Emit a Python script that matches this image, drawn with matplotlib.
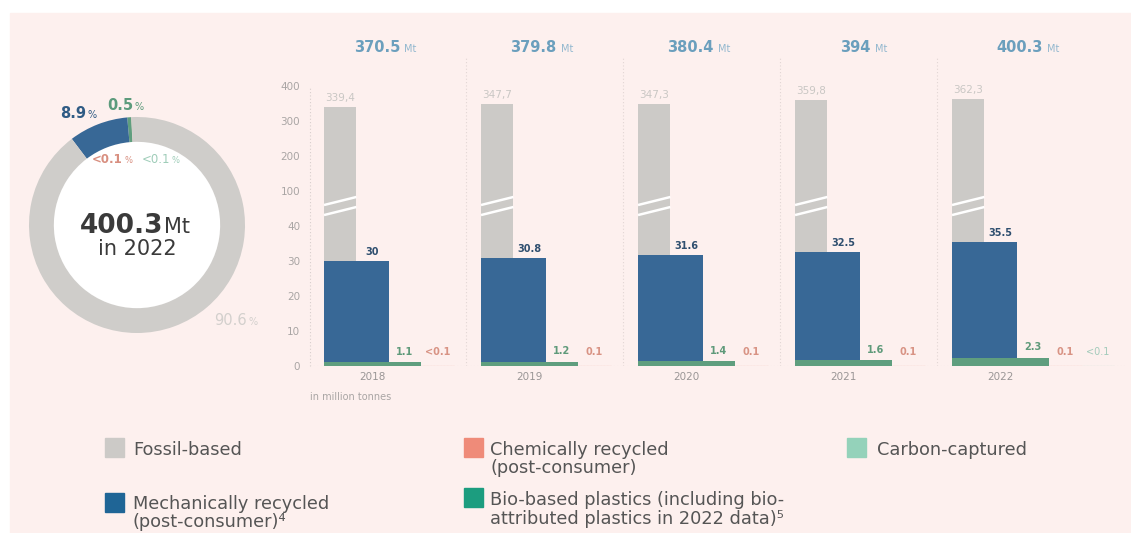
import numpy as np
import matplotlib
matplotlib.use("Agg")
import matplotlib.pyplot as plt
import matplotlib.transforms as mtransforms
from matplotlib.patches import Rectangle, Circle

# data (million tonnes)
years = ["2018", "2019", "2020", "2021", "2022"]
total_labels = ["370.5", "379.8", "380.4", "394", "400.3"]
fossil = [339.4, 347.7, 347.3, 359.8, 362.3]
mech = [30, 30.8, 31.6, 32.5, 35.5]
mech_labels = ["30", "30.8", "31.6", "32.5", "35.5"]
bio = [1.1, 1.2, 1.4, 1.6, 2.3]
chem = [0.05, 0.1, 0.1, 0.1, 0.1]
chem_labels = ["<0.1", "0.1", "0.1", "0.1", "0.1"]
carbon = [0, 0, 0, 0, 0.05]
carbon_labels = ["", "", "", "", "<0.1"]

donut_labels = ["<0.1", "<0.1", "0.5", "8.9", "90.6"]  # carbon, chem, bio, mech, fossil
yticks = [0, 10, 20, 30, 40, 100, 200, 300, 400]

BG = "#fdf0ee"
GRAY = "#cccac7"
BLUE = "#386896"
BLUE_LEG = "#1f6596"
GREEN = "#5f9e7e"
GREEN_LEG = "#1c9d7f"
RED = "#ef8b79"
MINT = "#94d2ba"
TXT = "#555555"

W, H = 1131, 533
fig = plt.figure(figsize=(W / 100, H / 100), dpi=100)
fig.patch.set_facecolor("white")
fig.patches.append(Rectangle((10 / W, 0), 1, 1 - 13 / H, transform=fig.transFigure,
                             color=BG, zorder=-5))

# ---- bar chart with broken y scale ----
fwd_x = [-1000, 0, 40, 100, 400, 2000]
fwd_y = [-1000, 0, 40, 50, 80, 240]


def fwd(v):
    return np.interp(v, fwd_x, fwd_y)


def inv(v):
    return np.interp(v, fwd_y, fwd_x)


ax = fig.add_axes([310 / W, 1 - 366 / H, 815 / W, 309 / H])
ax.patch.set_alpha(0)
ax.set_yscale("function", functions=(fwd, inv))
ax.set_xlim(0, 815)
ax.set_ylim(0, 483)
for s in ax.spines.values():
    s.set_visible(False)

slot = 32.4
lefts = 14 + 157 * np.arange(len(years))

ax.bar(lefts, fossil, width=slot, align="edge", color=GRAY, zorder=2)
ax.bar(lefts, mech, width=2 * slot, align="edge", color=BLUE, zorder=3)
ax.bar(lefts, bio, width=3 * slot, align="edge", color=GREEN, zorder=4)
ax.bar(lefts + 3 * slot, chem, width=slot, align="edge", color=RED, ec=RED, lw=0.8, zorder=4)
cmask = np.array(carbon) > 0
ax.bar((lefts + 4 * slot)[cmask], np.array(carbon)[cmask], width=slot, align="edge",
       color=MINT, ec=MINT, lw=0.8, zorder=4)

# break marks on the fossil bars
for l in lefts:
    ax.plot([l, l + slot], [58.8, 72.6], color="white", lw=1.8, zorder=5, solid_capstyle="butt")
    ax.plot([l, l + slot], [76, 89.8], color="white", lw=1.8, zorder=5, solid_capstyle="butt")

for i in range(len(years)):
    l = lefts[i]
    ax.annotate(f"{fossil[i]:.1f}".replace(".", ","), (l + 0.5 * slot, fossil[i]),
                xytext=(0, 3), textcoords="offset points", ha="center", va="bottom",
                fontsize=7.5, color="#c9c7c4")
    ax.annotate(mech_labels[i], (l + 1.5 * slot, mech[i]), xytext=(0, 3),
                textcoords="offset points", ha="center", va="bottom",
                fontsize=7, fontweight="bold", color="#2f4f6f")
    ax.annotate(f"{bio[i]:.1f}", (l + 2.5 * slot, bio[i]), xytext=(0, 4),
                textcoords="offset points", ha="center", va="bottom",
                fontsize=7, fontweight="bold", color="#5f9a7a")
    ax.annotate(chem_labels[i], (l + 3.5 * slot, chem[i]), xytext=(0, 6),
                textcoords="offset points", ha="center", va="bottom",
                fontsize=7, fontweight="bold", color="#d89384")
    if carbon_labels[i]:
        ax.annotate(carbon_labels[i], (l + 4.5 * slot, carbon[i]), xytext=(0, 6),
                    textcoords="offset points", ha="center", va="bottom",
                    fontsize=7, color="#a3cbbb")

# grid / separators
ax.plot([0, 0], [0, 400], ls=(0, (1, 2)), color="#d9cfcd", lw=0.8, clip_on=False)
ax.axhline(0, ls=(0, (1, 2)), color="#d9cfcd", lw=0.8, zorder=1)
seps = list(lefts[1:] - 15)
for x in seps:
    ax.plot([x, x], [0, 483], ls=(0, (1, 2)), color="#e2d6d4", lw=0.8, zorder=1)

# totals centred in each column
bounds = [0] + seps + [815]
trans = mtransforms.blended_transform_factory(ax.transData, ax.transAxes)
for i in range(len(years)):
    c = (bounds[i] + bounds[i + 1]) / 2
    ax.text(c + 12, 1.016, total_labels[i], transform=trans, ha="right", va="baseline",
            fontsize=10.5, fontweight="bold", color="#6b9fbd")
    ax.annotate("Mt", (c + 12, 1.016), xycoords=trans, xytext=(3, 0),
                textcoords="offset points", ha="left", va="baseline",
                fontsize=7, color="#93b8cf")

ax.set_yticks(yticks)
ax.set_yticklabels([str(t) for t in yticks])
ax.tick_params(axis="y", length=0, pad=7, labelsize=7.5, labelcolor="#a9a5a4")
ax.set_xticks(lefts + 1.5 * slot)
ax.set_xticklabels(years)
ax.tick_params(axis="x", length=0, pad=4, labelsize=7.5, labelcolor="#9a9696")
ax.text(0, -0.1, "in million tonnes", transform=ax.transAxes, ha="left", va="center",
        fontsize=7, color="#a9a5a4")

# ---- donut for 2022 ----
dax = fig.add_axes([17 / W, 1 - 345 / H, 240 / W, 240 / H])
vals = [carbon[-1], chem[-1], bio[-1], mech[-1], fossil[-1]]
dax.pie(vals, colors=[MINT, RED, GREEN, BLUE, "#cfcdca"], startangle=93, counterclock=True,
        radius=1, wedgeprops=dict(width=0.23, linewidth=0))
dax.add_patch(Circle((0, 0), 0.77, color="white", zorder=0))
dax.set_xlim(-1.111, 1.111)
dax.set_ylim(-1.111, 1.111)
dax.axis("off")


def pair(a, x, y, big, color, bsize, ssize, weight="bold", small="%", scolor=None):
    a.text(x, y, big, ha="right", va="baseline", fontsize=bsize, fontweight=weight, color=color)
    a.annotate(small, (x, y), xytext=(1, 0), textcoords="offset points", ha="left",
               va="baseline", fontsize=ssize, color=scolor or color)


pair(dax, -0.47, 0.99, donut_labels[3], "#2f5b84", 10.5, 7)
pair(dax, -0.037, 1.065, donut_labels[2], "#5c9b7c", 10.5, 7)
pair(dax, -0.13, 0.574, donut_labels[1], "#d88f80", 8.5, 6)
pair(dax, 0.306, 0.574, donut_labels[0], "#9fcdb9", 8.5, 6, weight="normal")
pair(dax, 1.02, -0.926, donut_labels[4], "#d3d0cd", 10.5, 7, weight="normal")
pair(dax, 0.24, -0.074, "400.3", "#3a3a3a", 19, 15, small="Mt")
dax.text(0, -0.22, "in 2022", ha="center", va="center", fontsize=15, color="#3a3a3a")

# ---- legend ----
legend = [
    (105, 438, GRAY, 133, ["Fossil-based"], [450]),
    (105, 493, BLUE_LEG, 133, ["Mechanically recycled", "(post-consumer)\u2074"], [504, 522]),
    (464, 438, RED, 490, ["Chemically recycled", "(post-consumer)"], [450, 468]),
    (464, 488, GREEN_LEG, 490, ["Bio-based plastics (including bio-",
                                "attributed plastics in 2022 data)\u2075"], [500, 519]),
    (847, 438, MINT, 877, ["Carbon-captured"], [450]),
]
for sx, sy, col, tx, lines, ys in legend:
    fig.patches.append(Rectangle((sx / W, 1 - (sy + 19) / H), 19 / W, 19 / H,
                                 transform=fig.transFigure, color=col, zorder=2))
    for line, ty in zip(lines, ys):
        fig.text(tx / W, 1 - ty / H, line, ha="left", va="center", fontsize=12.8, color=TXT)

fig.savefig("out.png", dpi=100, facecolor=fig.get_facecolor())
